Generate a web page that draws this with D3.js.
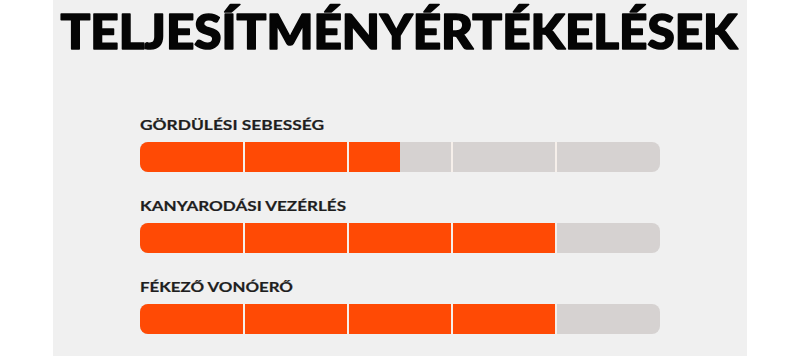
<!DOCTYPE html>
<html>
<head>
<meta charset="utf-8">
<script src="https://cdn.jsdelivr.net/npm/d3@7/dist/d3.min.js"></script>
<style>
html,body{margin:0;padding:0;background:#ffffff;}
svg{display:block;}
</style>
</head>
<body>
<svg id="chart" width="800" height="356"></svg>
<script>
const title = "TELJESÍTMÉNYÉRTÉKELÉSEK";
const categories = ["GÖRDÜLÉSI SEBESSÉG", "KANYARODÁSI VEZÉRLÉS", "FÉKEZŐ VONÓERŐ"];
const values = [2.5, 4, 4];
const maxValue = 5;
const segmentTicks = [1, 2, 3, 4];
const labelWidths = [184, 206, 153];

const svg = d3.select("#chart");
const W = 800, H = 356;

svg.append("rect").attr("x", 53).attr("y", 0).attr("width", 694).attr("height", H).attr("fill", "#f0f0f0");

svg.append("text")
  .attr("x", 399).attr("y", 48.5)
  .attr("text-anchor", "middle")
  .attr("font-family", "Lato, 'Liberation Sans', sans-serif")
  .attr("font-weight", 900)
  .attr("font-size", 48)
  .attr("fill", "#050505")
  .attr("stroke", "#050505")
  .attr("stroke-width", 1.6)
  .attr("stroke-linejoin", "round")
  .attr("textLength", 677)
  .attr("lengthAdjust", "spacingAndGlyphs")
  .text(title);

const x = d3.scaleLinear().domain([0, maxValue]).range([140, 660]);
const y = d3.scaleBand().domain(categories).range([142, 385]).paddingInner(0).paddingOuter(0);
const barH = 30;

const defs = svg.append("defs");
const rows = svg.selectAll("g.row").data(categories).join("g").attr("class", "row")
  .attr("transform", d => `translate(0,${y(d)})`);

rows.each(function(d, i) {
  const g = d3.select(this);
  const cid = "clip" + i;
  defs.append("clipPath").attr("id", cid)
    .append("rect").attr("x", x(0)).attr("y", 0)
    .attr("width", x(maxValue) - x(0)).attr("height", barH).attr("rx", 8).attr("ry", 8);
  const bg = g.append("g").attr("clip-path", `url(#${cid})`);
  bg.append("rect").attr("x", x(0)).attr("y", 0)
    .attr("width", x(maxValue) - x(0)).attr("height", barH).attr("fill", "#d6d2d1");
  bg.append("rect").attr("x", x(0)).attr("y", 0)
    .attr("width", x(values[i]) - x(0)).attr("height", barH).attr("fill", "#ff4a05");
  bg.selectAll("rect.div").data(segmentTicks).join("rect").attr("class", "div")
    .attr("x", t => x(t) - 1).attr("y", 0).attr("width", 2).attr("height", barH)
    .attr("fill", "#f6efea");
  g.append("text")
    .attr("x", 140).attr("y", -12)
    .attr("font-family", "Lato, 'Open Sans', sans-serif")
    .attr("font-weight", 700)
    .attr("font-size", 14)
    .attr("fill", "#1e1e1e")
    .attr("stroke", "#1e1e1e")
    .attr("stroke-width", 0.2)
    .attr("textLength", labelWidths[i])
    .attr("lengthAdjust", "spacingAndGlyphs")
    .text(d);
});
</script>
</body>
</html>
